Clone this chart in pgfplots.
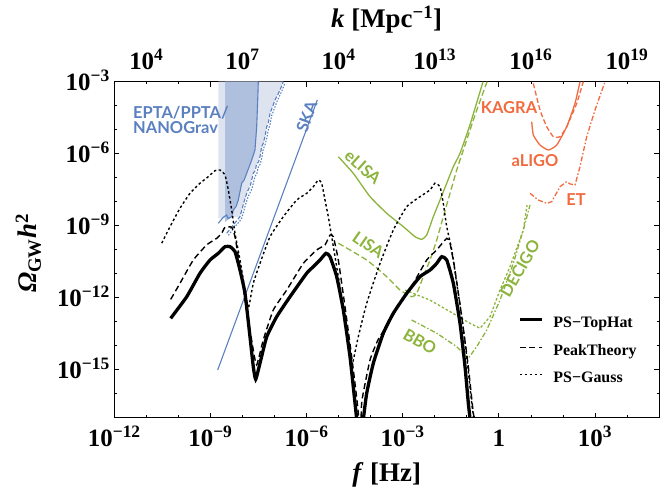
\documentclass[border=0pt]{standalone}
\usepackage{fontspec}
\setmainfont{Liberation Serif}
\newfontfamily\labfont{Lato}
\usepackage{pgfplots}
\pgfplotsset{compat=1.18}

\definecolor{ptablue}{RGB}{91,128,192}
\definecolor{ptadark}{RGB}{175,192,222}
\definecolor{ptalight}{RGB}{221,228,240}
\definecolor{lisagreen}{RGB}{140,180,60}
\definecolor{ligoorange}{RGB}{242,107,63}

\newcommand\tl[1]{10\textsuperscript{#1}}
\newcommand\ticksize{\fontsize{25}{29}\selectfont\bfseries}
\newcommand\labsize{\fontsize{27}{31}\selectfont\bfseries}
\newcommand\detsize{\labfont\fontsize{16.5}{19}\selectfont\bfseries}

\begin{document}
\begin{tikzpicture}
\useasboundingbox (-114.3bp,-71.3bp) rectangle (555.7bp,417.7bp);

% top axis: k [Mpc^-1]
\begin{axis}[
  at={(0,0)}, anchor=south west,
  scale only axis, width=544.7bp, height=336bp,
  xmin=-12, xmax=5, ymin=-17, ymax=-3,
  axis x line*=top, axis y line=none,
  xtick={-11,-8,-5,-2,1,4},
  xticklabels={\tl{4},\tl{7},\tl{4},\tl{13},\tl{16},\tl{19}},
  major tick length=0pt, minor tick length=0pt,
  xticklabel style={font=\ticksize, anchor=base, inner sep=0pt, yshift=11.7bp},
  xlabel={\textit{k} [Mpc\textsuperscript{−1}]},
  xlabel style={font=\labsize, at={(axis description cs:0.5,1)}, anchor=base, yshift=54bp},
  axis line style={line width=1bp},
]
\end{axis}

\begin{axis}[
  at={(0,0)}, anchor=south west,
  scale only axis, width=544.7bp, height=336bp,
  xmin=-12, xmax=5, ymin=-17, ymax=-3,
  xtick={-12,-9,-6,-3,0,3},
  xticklabels={\tl{−12},\tl{−9},\tl{−6},\tl{−3},1,\tl{3}},
  minor xtick={-12,...,5},
  ytick={-15,-12,-9,-6,-3},
  yticklabels={\tl{−15},\tl{−12},\tl{−9},\tl{−6},\tl{−3}},
  minor ytick={-17,...,-3},
  major tick length=5bp, minor tick length=2.5bp,
  tick style={black, line width=0.6bp},
  axis line style={line width=1bp},
  xticklabel style={font=\ticksize, anchor=base, inner sep=0pt, yshift=-29bp},
  yticklabel style={font=\ticksize, anchor=base east, inner sep=0pt, xshift=-4.3bp, yshift=-8.5bp},
  xlabel={\textit{f} [Hz]},
  xlabel style={font=\labsize, at={(axis description cs:0.5,0)}, anchor=base, yshift=-64bp},
  legend style={draw=none, fill=none, at={(axis description cs:0.741,0.301)}, anchor=north west,
    inner sep=0pt, font=\fontsize{16}{19}\selectfont\bfseries,
    nodes={inner sep=0pt, text height=11bp, text depth=4bp}, row sep=12.5bp},
  legend cell align=left,
  legend image code/.code={\draw[#1] (0bp,4.5bp) -- (22bp,4.5bp); \path (32bp,0bp);},
]

% pulsar timing arrays
\addplot[fill=ptalight, draw=none, forget plot] coordinates {
  (-8.754,-3) (-8.754,-8.69) (-8.49,-8.69) (-8.077,-8.625) (-7.868,-7.65)
  (-7.662,-6.817) (-7.556,-6.4) (-7.453,-6.125) (-7.35,-5.567) (-7.243,-4.875)
  (-7.14,-4.317) (-6.984,-3.763) (-6.828,-3.346) (-6.725,-3) };
\addplot[fill=ptadark, draw=none, forget plot] coordinates {
  (-8.545,-3) (-8.545,-8.85) (-8.4,-8.7) (-8.286,-8.346) (-8.13,-7.93)
  (-8.024,-7.23) (-7.868,-6.817) (-7.712,-6.263) (-7.609,-5.846)
  (-7.556,-4.875) (-7.524,-3.763) (-7.506,-3) };
\addplot[ptablue, line width=1.1bp, forget plot] coordinates {
  (-8.754,-8.9) (-8.6,-8.65) (-8.492,-8.554) (-8.45,-8.7) (-8.336,-8.625)
  (-8.286,-8.346) (-8.2,-8.2) (-8.13,-7.93) (-8.024,-7.23) (-7.95,-7.1)
  (-7.868,-6.817) (-7.712,-6.263) (-7.609,-5.846) (-7.556,-4.875)
  (-7.524,-3.763) (-7.506,-3) };
\addplot[ptablue, line width=1.1bp, dash pattern=on 4bp off 2bp, forget plot] coordinates {
  (-8.492,-9.317) (-8.286,-8.97) (-8.077,-8.625) (-7.95,-8.0) (-7.868,-7.65)
  (-7.75,-7.3) (-7.662,-6.817) (-7.6,-6.7) (-7.556,-6.4) (-7.5,-6.35)
  (-7.453,-6.125) (-7.4,-5.7) (-7.35,-5.567) (-7.3,-5.3) (-7.243,-4.875)
  (-7.19,-4.7) (-7.14,-4.317) (-7.05,-4.0) (-6.984,-3.763) (-6.9,-3.55)
  (-6.828,-3.346) (-6.725,-3) };
\addplot[ptablue, line width=1.1bp, dash pattern=on 1.5bp off 1.5bp, forget plot] coordinates {
  (-8.44,-9.4) (-8.24,-9.05) (-8.03,-8.72) (-7.9,-8.1) (-7.82,-7.78)
  (-7.7,-7.45) (-7.61,-6.95) (-7.55,-6.82) (-7.5,-6.52) (-7.45,-6.45)
  (-7.4,-6.2) (-7.35,-5.8) (-7.3,-5.65) (-7.25,-5.4) (-7.19,-4.98)
  (-7.14,-4.8) (-7.09,-4.42) (-7.0,-4.1) (-6.93,-3.85) (-6.85,-3.62)
  (-6.78,-3.42) (-6.68,-3.08) };
% SKA
\addplot[ptablue, line width=1.1bp, forget plot] coordinates { (-8.773,-15.01) (-5.664,-3.76) };

% eLISA, LISA, DECIGO, BBO
\addplot[lisagreen, line width=1.3bp, smooth, tension=0.3, forget plot] coordinates {
  (-5.009,-6.125) (-4.541,-6.817) (-4.019,-7.79) (-3.498,-8.483) (-2.98,-9.04)
  (-2.615,-9.458) (-2.406,-9.567) (-2.25,-9.39) (-2.044,-8.625) (-1.834,-7.93)
  (-1.625,-7.23) (-1.419,-6.54) (-1.21,-5.98) (-0.9,-4.80) (-0.492,-3) };
\addplot[lisagreen, line width=1.3bp, smooth, tension=0.3, dash pattern=on 6bp off 3bp, forget plot] coordinates {
  (-5.009,-9.73) (-4.122,-10.43) (-3.498,-11.125) (-3.083,-11.68) (-2.718,-11.96)
  (-2.562,-11.82) (-2.356,-11.125) (-2.147,-10.43) (-1.938,-9.6) (-1.732,-8.625)
  (-1.522,-7.65) (-1.313,-6.68) (-1.107,-5.846) (-0.742,-4.39) (-0.367,-3) };
\addplot[lisagreen, line width=1.3bp, dash pattern=on 2.5bp off 2bp, forget plot] coordinates {
  (-2.927,-11.68) (-2.147,-12.1) (-1.522,-12.58) (-0.898,-13.07) (-0.586,-13.275)
  (-0.274,-12.79) (0.038,-11.68) (0.35,-10.71) (0.765,-9.18) (0.881,-8.14) };
\addplot[lisagreen, line width=1.3bp, dash pattern=on 5bp off 2bp on 1.5bp off 2bp, forget plot] coordinates {
  (-2.718,-12.93) (-1.938,-13.48) (-1.313,-14.04) (-0.951,-14.525) (-0.689,-14.04)
  (-0.377,-13.35) (0.038,-12.1) (0.453,-10.57) (0.765,-9.18) (0.974,-8.14) };

% KAGRA, aLIGO, ET
\addplot[ligoorange, line width=1.3bp, smooth, tension=0.3, dash pattern=on 5bp off 2.5bp, forget plot] coordinates {
  (1.077,-3.07) (1.287,-4.18) (1.496,-4.875) (1.702,-5.29) (1.911,-5.29)
  (2.12,-4.875) (2.432,-3.9) (2.638,-3) };
\addplot[ligoorange, line width=1.3bp, smooth, tension=0.3, forget plot] coordinates {
  (1.028,-4.667) (1.077,-5.22) (1.287,-5.64) (1.546,-5.846) (1.808,-5.64)
  (2.12,-4.875) (2.379,-3.9) (2.535,-3) };
\addplot[ligoorange, line width=1.3bp, dash pattern=on 5bp off 2bp on 1.5bp off 2bp, forget plot] coordinates {
  (0.974,-7.65) (1.233,-7.93) (1.496,-8.07) (1.652,-8.0) (1.911,-7.375)
  (2.12,-7.167) (2.223,-7.26) (2.379,-7.30) (2.535,-6.54) (2.744,-5.29)
  (3.003,-4.18) (3.315,-3) };

% PBH induced spectra
\addplot[black, line width=3.3bp, smooth, tension=0.3] coordinates {
  (-10.24,-12.86) (-9.74,-11.96) (-9.325,-10.98) (-9.013,-10.43) (-8.754,-10.15)
  (-8.545,-9.875) (-8.389,-9.875) (-8.233,-10.08) (-8.077,-10.85) (-7.921,-11.82)
  (-7.765,-13.63) (-7.662,-14.875) (-7.587,-15.40) (-7.453,-14.73) (-7.243,-13.63)
  (-6.931,-12.79) (-6.516,-11.96) (-5.995,-10.98) (-5.789,-10.71) (-5.58,-10.43)
  (-5.393,-10.15) (-5.268,-10.29) (-5.059,-11.125) (-4.853,-12.51) (-4.644,-14.46)
  (-4.487,-16.40) (-4.434,-17.10) (-4.33,-19) (-4.228,-17.1) (-4.122,-15.98)
  (-3.916,-14.73) (-3.604,-13.48) (-3.292,-12.65) (-2.874,-11.82) (-2.459,-11.125)
  (-2.147,-10.85) (-1.938,-10.57) (-1.782,-10.29) (-1.625,-10.43) (-1.419,-11.4)
  (-1.21,-13.07) (-1.054,-14.875) (-0.951,-16.40) (-0.898,-17.1) (-0.85,-19) };
\addplot[black, line width=1.4bp, smooth, tension=0.3, dash pattern=on 6bp off 3.5bp] coordinates {
  (-10.24,-12.07) (-9.95,-11.4) (-9.534,-10.43) (-9.116,-9.80) (-8.804,-9.525)
  (-8.648,-9.317) (-8.545,-9.067) (-8.336,-9.067) (-8.233,-9.458) (-8.077,-10.71)
  (-7.868,-12.51) (-7.662,-14.18) (-7.556,-14.80) (-7.35,-13.76) (-7.037,-12.51)
  (-6.619,-11.68) (-6.101,-10.57) (-5.683,-10.01) (-5.424,-9.80) (-5.268,-9.39)
  (-5.165,-9.458) (-5.009,-10.43) (-4.8,-12.375) (-4.591,-14.46) (-4.385,-16.82)
  (-4.35,-19) (-4.3,-17.1) (-4.269,-16.26) (-4.02,-14.6) (-3.77,-13.76)
  (-3.448,-13.07) (-3.083,-12.23) (-2.668,-11.4) (-2.25,-10.43) (-1.938,-10.01)
  (-1.625,-9.525) (-1.522,-9.73) (-1.367,-10.85) (-1.157,-12.79) (-0.951,-14.875)
  (-0.795,-16.82) (-0.74,-17.1) (-0.72,-19) };
\addplot[black, line width=1.4bp, smooth, tension=0.3, dash pattern=on 2.5bp off 2.5bp] coordinates {
  (-10.52,-9.73) (-10.26,-9.04) (-9.95,-8.275) (-9.637,-7.65) (-9.325,-7.23)
  (-9.066,-6.958) (-8.857,-6.708) (-8.701,-6.68) (-8.545,-6.888) (-8.442,-7.51)
  (-8.336,-8.35) (-8.233,-9.317) (-8.077,-10.43) (-7.921,-11.68) (-7.818,-12.44)
  (-7.662,-11.4) (-7.453,-10.57) (-7.14,-9.458) (-6.725,-8.625) (-6.307,-7.93)
  (-5.995,-7.65) (-5.789,-7.375) (-5.633,-7.096) (-5.527,-7.23) (-5.424,-7.93)
  (-5.321,-8.625) (-5.215,-9.458) (-5.059,-10.71) (-4.853,-12.375) (-4.644,-14.18)
  (-4.591,-14.875) (-4.385,-13.625) (-4.122,-12.23) (-3.707,-10.57) (-3.292,-9.18)
  (-2.874,-8.21) (-2.459,-7.79) (-2.147,-7.51) (-1.991,-7.23) (-1.834,-7.375)
  (-1.732,-8.07) (-1.625,-9.04) (-1.469,-10.01) (-1.313,-11.4) (-1.157,-12.79)
  (-1.0,-14.46) (-0.845,-16.40) (-0.795,-16.96) (-0.75,-19) };
\legend{PS−TopHat, PeakTheory, PS−Gauss}

% detector labels
\node[ptablue, font=\detsize, anchor=base west, inner sep=0pt] at (axis cs:-11.416,-4.525) {EPTA/PPTA/};
\node[ptablue, font=\detsize, anchor=base west, inner sep=0pt] at (axis cs:-11.416,-5.15) {NANOGrav};
\node[ptablue, font=\detsize, rotate=70, inner sep=0pt] at (axis cs:-5.995,-4.458) {SKA};
\node[lisagreen, font=\detsize, rotate=-42, inner sep=0pt] at (axis cs:-4.238,-6.555) {eLISA};
\node[lisagreen, font=\detsize, rotate=-35, inner sep=0pt] at (axis cs:-4.07,-9.80) {LISA};
\node[lisagreen, font=\detsize, rotate=-30, inner sep=0pt] at (axis cs:-2.459,-13.83) {BBO};
\node[lisagreen, font=\detsize, rotate=60, inner sep=0pt] at (axis cs:0.662,-10.78) {DECIGO};
\node[ligoorange, font=\detsize, inner sep=0pt] at (axis cs:0.319,-4.096) {KAGRA};
\node[ligoorange, font=\detsize, inner sep=0pt] at (axis cs:1.13,-6.30) {aLIGO};
\node[ligoorange, font=\detsize, inner sep=0pt] at (axis cs:2.41,-7.89) {ET};
\end{axis}

% y axis label
\node[font=\labsize, rotate=90, anchor=base, inner sep=0pt] at (-77.3bp,164.3bp)
  {\textit{Ω}\textsubscript{GW}\textit{h}\textsuperscript{2}};
\end{tikzpicture}
\end{document}
